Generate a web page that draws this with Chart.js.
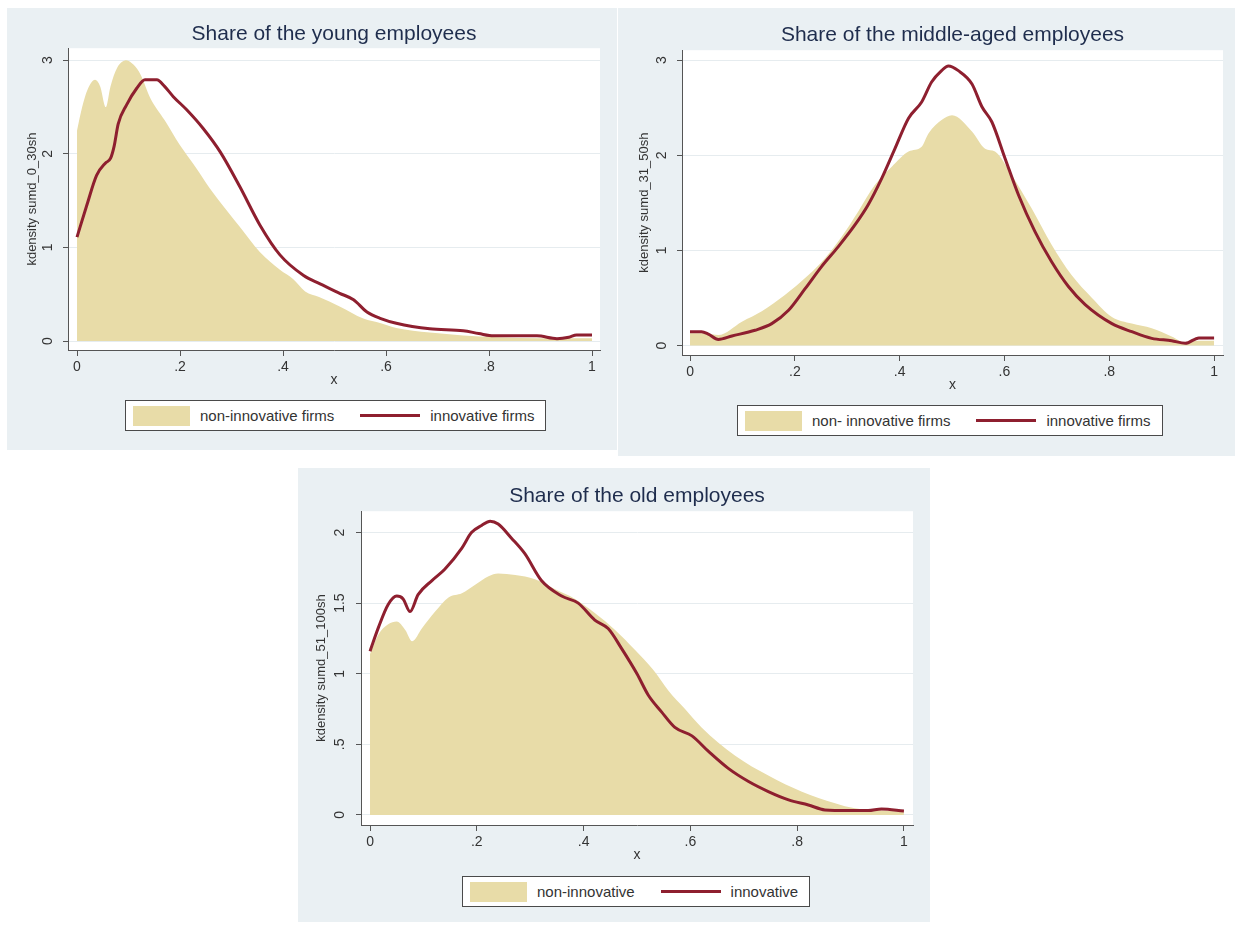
<!DOCTYPE html>
<html>
<head>
<meta charset="utf-8">
<script src="https://cdn.jsdelivr.net/npm/chart.js@4/dist/chart.umd.min.js"></script>
<style>
  body { margin: 0; background: #fff; width: 1240px; height: 925px; position: relative; overflow: hidden; }
  .panel { position: absolute; background: #eaf0f3; }
  .panel canvas { position: absolute; left: 0; top: 0; }
  .legend { position: absolute; display: flex; align-items: center; height: 31px; box-sizing: border-box;
            border: 1.5px solid #4a4a4a; background: #fff; padding: 0 11px 0 7px;
            font: 15px "Liberation Sans", Arial, sans-serif; color: #333; white-space: nowrap; }
  .sw { width: 57px; height: 20px; margin-right: 10px; }
  .ln { width: 60px; height: 3px; margin: 0 10px 0 26px; }
</style>
</head>
<body>

<div class="panel" style="left:7px;top:8px;width:610px;height:442px">
  <canvas id="young" width="610" height="442"></canvas>
  <div class="legend" style="left:118px;top:392px">
    <span class="sw"></span><span>non-innovative firms</span><span class="ln"></span><span>innovative firms</span>
  </div>
</div>

<div class="panel" style="left:618px;top:8px;width:617px;height:448px">
  <canvas id="middle" width="617" height="448"></canvas>
  <div class="legend" style="left:119px;top:397px">
    <span class="sw"></span><span>non- innovative firms</span><span class="ln"></span><span>innovative firms</span>
  </div>
</div>

<div class="panel" style="left:298px;top:468px;width:632px;height:454px">
  <canvas id="old" width="632" height="454"></canvas>
  <div class="legend" style="left:164px;top:408px">
    <span class="sw"></span><span>non-innovative</span><span class="ln"></span><span>innovative</span>
  </div>
</div>

<script>
// Colours //
var FILL = '#e8dca8';
var LINE = '#8e1f2f';
var AXIS = '#555555';
var GRID = '#e6ecef';
var TXT = '#333333';
var TITLE = '#1f2d4d';

// Tick labels //
var xTicks = [0, 0.2, 0.4, 0.6, 0.8, 1];
var yTicksYoung = [0, 1, 2, 3];
var yTicksMiddle = [0, 1, 2, 3];
var yTicksOld = [0, 0.5, 1, 1.5, 2];

// Share of the young employees //
var youngFillX = [0, 0.01, 0.02, 0.035, 0.045, 0.056, 0.065, 0.078, 0.096, 0.11, 0.124, 0.142, 0.17, 0.2, 0.23, 0.258, 0.29, 0.316, 0.355, 0.394, 0.42, 0.443, 0.47, 0.51, 0.556, 0.59, 0.62, 0.685, 0.75, 0.815, 0.9, 1];
var youngFillY = [2.25, 2.5, 2.68, 2.79, 2.72, 2.5, 2.72, 2.92, 3.0, 2.95, 2.84, 2.6, 2.36, 2.09, 1.86, 1.63, 1.4, 1.22, 0.95, 0.76, 0.66, 0.53, 0.47, 0.37, 0.24, 0.19, 0.14, 0.09, 0.06, 0.04, 0.03, 0.03];
var youngLineX = [0, 0.019, 0.038, 0.055, 0.065, 0.072, 0.08, 0.096, 0.116, 0.132, 0.155, 0.17, 0.187, 0.213, 0.245, 0.278, 0.316, 0.355, 0.394, 0.44, 0.472, 0.51, 0.537, 0.563, 0.59, 0.62, 0.685, 0.75, 0.78, 0.809, 0.893, 0.932, 0.955, 0.97, 1];
var youngLineY = [1.11, 1.45, 1.77, 1.9, 1.95, 2.08, 2.32, 2.52, 2.7, 2.79, 2.79, 2.72, 2.61, 2.47, 2.27, 2.02, 1.65, 1.24, 0.92, 0.7, 0.61, 0.51, 0.44, 0.31, 0.24, 0.19, 0.13, 0.11, 0.08, 0.055, 0.055, 0.025, 0.04, 0.065, 0.065];

// Share of the middle-aged employees //
var middleFillX = [0, 0.03, 0.054, 0.099, 0.137, 0.181, 0.226, 0.258, 0.289, 0.321, 0.353, 0.385, 0.417, 0.442, 0.455, 0.48, 0.5, 0.538, 0.563, 0.582, 0.614, 0.652, 0.69, 0.728, 0.767, 0.805, 0.843, 0.881, 0.919, 0.945, 0.97, 1];
var middleFillY = [0.13, 0.13, 0.11, 0.25, 0.36, 0.53, 0.74, 0.92, 1.14, 1.41, 1.69, 1.88, 2.04, 2.09, 2.23, 2.37, 2.42, 2.25, 2.07, 2.04, 1.79, 1.44, 1.06, 0.74, 0.5, 0.3, 0.23, 0.18, 0.094, 0.03, 0.05, 0.05];
var middleLineX = [0, 0.022, 0.035, 0.054, 0.08, 0.124, 0.156, 0.188, 0.22, 0.251, 0.283, 0.315, 0.34, 0.366, 0.391, 0.417, 0.442, 0.461, 0.48, 0.493, 0.512, 0.538, 0.557, 0.576, 0.601, 0.627, 0.658, 0.69, 0.722, 0.754, 0.805, 0.843, 0.881, 0.919, 0.945, 0.971, 1];
var middleLineY = [0.145, 0.145, 0.12, 0.064, 0.1, 0.16, 0.23, 0.37, 0.6, 0.83, 1.04, 1.27, 1.48, 1.76, 2.07, 2.39, 2.56, 2.77, 2.89, 2.94, 2.89, 2.75, 2.51, 2.35, 1.97, 1.58, 1.2, 0.88, 0.62, 0.43, 0.23, 0.145, 0.075, 0.05, 0.023, 0.08, 0.08];

// Share of the old employees //
var oldFillX = [0, 0.016, 0.034, 0.05, 0.066, 0.079, 0.097, 0.122, 0.147, 0.172, 0.197, 0.222, 0.24, 0.272, 0.309, 0.346, 0.384, 0.421, 0.459, 0.496, 0.53, 0.559, 0.59, 0.621, 0.684, 0.746, 0.809, 0.871, 0.908, 0.946, 1];
var oldFillY = [1.14, 1.28, 1.35, 1.37, 1.31, 1.23, 1.32, 1.44, 1.54, 1.57, 1.63, 1.69, 1.71, 1.7, 1.67, 1.6, 1.53, 1.43, 1.31, 1.17, 1.03, 0.88, 0.75, 0.62, 0.42, 0.28, 0.165, 0.083, 0.047, 0.036, 0.024];
var oldLineX = [0, 0.016, 0.034, 0.05, 0.062, 0.075, 0.09, 0.116, 0.14, 0.172, 0.19, 0.209, 0.225, 0.24, 0.265, 0.29, 0.321, 0.359, 0.39, 0.421, 0.446, 0.471, 0.5, 0.521, 0.546, 0.571, 0.603, 0.634, 0.671, 0.709, 0.746, 0.784, 0.821, 0.852, 0.896, 0.933, 0.958, 1];
var oldLineY = [1.16, 1.33, 1.49, 1.55, 1.53, 1.44, 1.56, 1.66, 1.74, 1.89, 2.0, 2.05, 2.08, 2.06, 1.96, 1.85, 1.66, 1.55, 1.5, 1.38, 1.32, 1.18, 1.0, 0.85, 0.73, 0.62, 0.56, 0.45, 0.33, 0.237, 0.166, 0.107, 0.071, 0.036, 0.031, 0.031, 0.043, 0.028];

Chart.defaults.font.family = '"Liberation Sans", Arial, sans-serif';

function pts(xs, ys) {
    return xs.map(function(x, i) { return { x: x, y: ys[i] }; });
}

// Stata style numbers: .2 instead of 0.2 //
function stataLabel(v) {
    var s = String(Math.round(v * 10) / 10);
    return s.replace(/^0\./, '.');
}

// white plot region //
var plotBg = {
    id: 'plotBg',
    beforeDraw: function(chart) {
        var a = chart.chartArea;
        var c = chart.ctx;
        c.save();
        c.fillStyle = '#ffffff';
        c.fillRect(a.left, a.top, a.right - a.left, a.bottom - a.top);
        c.restore();
    }
};

function makeChart(id, o) {
    return new Chart(document.getElementById(id), {
        type: 'line',
        data: {
            datasets: [{
                label: o.fillLabel,
                data: pts(o.fx, o.fy),
                fill: 'origin',
                backgroundColor: FILL,
                borderWidth: 0,
                pointRadius: 0,
                cubicInterpolationMode: 'monotone',
                order: 2
            }, {
                label: o.lineLabel,
                data: pts(o.lx, o.ly),
                fill: false,
                borderColor: LINE,
                borderWidth: 3,
                pointRadius: 0,
                cubicInterpolationMode: 'monotone',
                order: 1
            }]
        },
        options: {
            responsive: false,
            animation: false,
            layout: { padding: { left: 0, top: 0, right: o.padRight, bottom: o.padBottom } },
            plugins: {
                legend: { display: false },
                tooltip: { enabled: false },
                title: {
                    display: true,
                    text: o.title,
                    fullSize: false,
                    color: TITLE,
                    font: { size: 21, weight: 'normal' },
                    padding: { top: o.titleTop, bottom: o.titleBottom }
                }
            },
            scales: {
                x: {
                    type: 'linear',
                    min: o.xMin,
                    max: o.xMax,
                    afterBuildTicks: function(s) { s.ticks = xTicks.map(function(v) { return { value: v }; }); },
                    afterFit: function(s) { s.height = 48; },
                    grid: { drawOnChartArea: false, tickLength: 6, tickColor: AXIS, tickWidth: 1 },
                    border: { color: AXIS, width: 1 },
                    ticks: { callback: stataLabel, color: TXT, font: { size: 14 }, padding: 3, maxRotation: 0 },
                    title: { display: true, text: 'x', color: TXT, font: { size: 14 }, padding: { top: 0, bottom: 9 } }
                },
                y: {
                    min: o.yMin,
                    max: o.yMax,
                    afterBuildTicks: function(s) { s.ticks = o.yTicks.map(function(v) { return { value: v }; }); },
                    afterFit: function(s) { s.width = o.axisLeft; },
                    grid: { color: GRID, lineWidth: 1, tickLength: 5, tickColor: AXIS, tickWidth: 1 },
                    border: { color: AXIS, width: 1 },
                    ticks: { callback: stataLabel, color: TXT, font: { size: 14 }, minRotation: 90, maxRotation: 90, crossAlign: 'center', padding: o.yPad },
                    title: { display: true, text: o.yTitle, color: TXT, font: { size: 13 }, padding: { top: o.yTitlePad, bottom: 0 } }
                }
            }
        },
        plugins: [plotBg]
    });
}

makeChart('young', {
    title: 'Share of the young employees',
    yTitle: 'kdensity sumd_0_30sh',
    fillLabel: 'non-innovative firms', lineLabel: 'innovative firms',
    fx: youngFillX, fy: youngFillY, lx: youngLineX, ly: youngLineY,
    yTicks: yTicksYoung,
    xMin: -0.0175, xMax: 1.0155, yMin: -0.096, yMax: 3.128,
    axisLeft: 61, padRight: 17, padBottom: 52,
    titleTop: 14, titleBottom: 1, yPad: 11, yTitlePad: 18
});

makeChart('middle', {
    title: 'Share of the middle-aged employees',
    yTitle: 'kdensity sumd_31_50sh',
    fillLabel: 'non- innovative firms', lineLabel: 'innovative firms',
    fx: middleFillX, fy: middleFillY, lx: middleLineX, ly: middleLineY,
    yTicks: yTicksMiddle,
    xMin: -0.0153, xMax: 1.017, yMin: -0.1, yMax: 3.105,
    axisLeft: 64, padRight: 12, padBottom: 53,
    titleTop: 15, titleBottom: 2, yPad: 11, yTitlePad: 19
});

makeChart('old', {
    title: 'Share of the old employees',
    yTitle: 'kdensity sumd_51_100sh',
    fillLabel: 'non-innovative', lineLabel: 'innovative',
    fx: oldFillX, fy: oldFillY, lx: oldLineX, ly: oldLineY,
    yTicks: yTicksOld,
    xMin: -0.0169, xMax: 1.017, yMin: -0.071, yMax: 2.151,
    axisLeft: 63, padRight: 17, padBottom: 49,
    titleTop: 16, titleBottom: 2, yPad: 6, yTitlePad: 16
});

// legend swatches use the same colours //
document.querySelectorAll('.sw').forEach(function(e) { e.style.background = FILL; });
document.querySelectorAll('.ln').forEach(function(e) { e.style.background = LINE; });
</script>
</body>
</html>
